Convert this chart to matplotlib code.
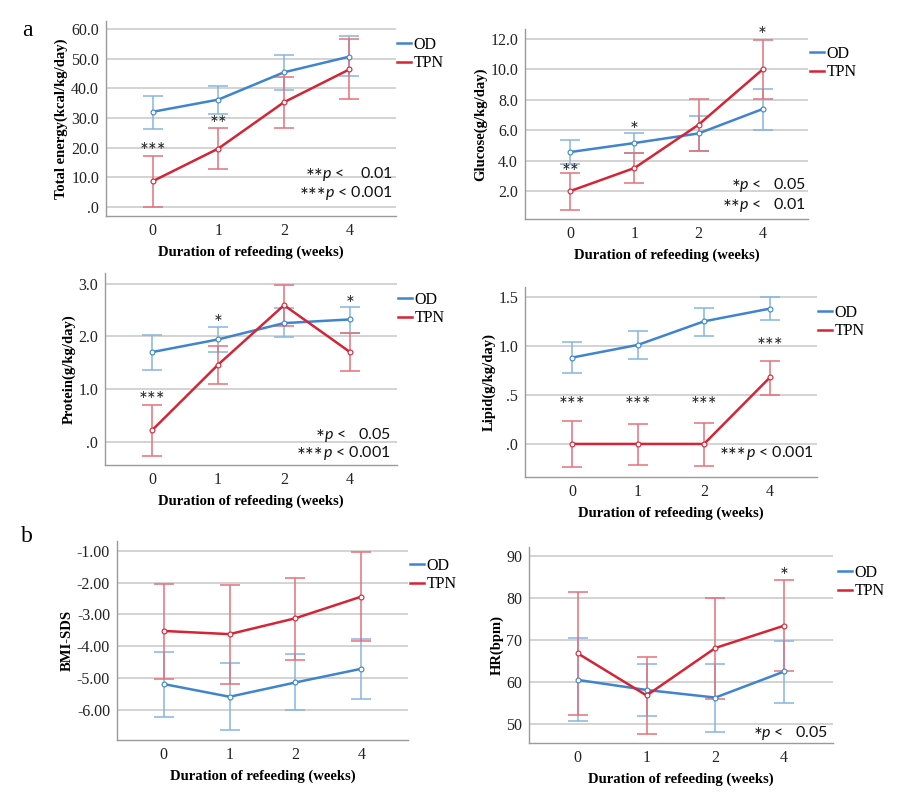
import numpy as np
import matplotlib
matplotlib.use("Agg")
import matplotlib.pyplot as plt
from matplotlib.transforms import offset_copy

plt.rcParams['font.family'] = ['Liberation Serif', 'DejaVu Serif']
plt.rcParams['mathtext.fontset'] = 'custom'
plt.rcParams['mathtext.it'] = 'Lato:italic'
plt.rcParams['mathtext.rm'] = 'Lato'

weeks = ["0", "1", "2", "4"]
groups = ["OD", "TPN"]

# Total energy (kcal/kg/day)
energy_od = [32.1, 36.2, 45.4, 50.7]
energy_od_lo = [26.2, 31.4, 39.4, 44.3]
energy_od_hi = [37.4, 40.9, 51.1, 57.6]
energy_tpn = [8.7, 19.7, 35.3, 46.4]
energy_tpn_lo = [0.2, 12.7, 26.6, 36.3]
energy_tpn_hi = [17.2, 26.6, 43.9, 56.5]

# Glucose (g/kg/day)
glucose_od = [4.56, 5.15, 5.78, 7.38]
glucose_od_lo = [3.79, 4.47, 4.65, 6.03]
glucose_od_hi = [5.37, 5.80, 6.92, 8.70]
glucose_tpn = [2.0, 3.51, 6.35, 9.98]
glucose_tpn_lo = [0.75, 2.50, 4.63, 8.01]
glucose_tpn_hi = [3.18, 4.47, 8.06, 11.95]

# Protein (g/kg/day)
protein_od = [1.70, 1.94, 2.25, 2.32]
protein_od_lo = [1.37, 1.70, 1.99, 2.07]
protein_od_hi = [2.03, 2.18, 2.53, 2.56]
protein_tpn = [0.215, 1.46, 2.59, 1.70]
protein_tpn_lo = [-0.27, 1.09, 2.19, 1.34]
protein_tpn_hi = [0.70, 1.81, 2.97, 2.07]

# Lipid (g/kg/day)
lipid_od = [0.88, 1.01, 1.25, 1.38]
lipid_od_lo = [0.72, 0.87, 1.105, 1.265]
lipid_od_hi = [1.04, 1.15, 1.39, 1.50]
lipid_tpn = [0.0, 0.0, 0.0, 0.68]
lipid_tpn_lo = [-0.24, -0.21, -0.22, 0.50]
lipid_tpn_hi = [0.23, 0.20, 0.21, 0.85]

# BMI-SDS
bmi_od = [-5.19, -5.59, -5.14, -4.71]
bmi_od_lo = [-6.22, -6.65, -6.00, -5.66]
bmi_od_hi = [-4.19, -4.54, -4.26, -3.77]
bmi_tpn = [-3.52, -3.62, -3.12, -2.44]
bmi_tpn_lo = [-5.04, -5.19, -4.42, -3.83]
bmi_tpn_hi = [-2.03, -2.06, -1.84, -1.03]

# HR (bpm)
hr_od = [60.6, 58.2, 56.4, 62.6]
hr_od_lo = [50.8, 52.1, 48.2, 55.2]
hr_od_hi = [70.5, 64.3, 64.3, 69.9]
hr_tpn = [66.9, 56.9, 68.2, 73.5]
hr_tpn_lo = [52.3, 47.8, 56.0, 62.6]
hr_tpn_hi = [81.6, 66.0, 80.1, 84.3]

BLUE = '#3f84cc'
RED = '#d42435'
BLUE_E = '#86b4e2'
RED_E = '#e4707b'

W, H = 900, 808
fig = plt.figure(figsize=(9, 8.08), dpi=100)
renderer = fig.canvas.get_renderer()
SANS = ['Lato', 'DejaVu Sans']


def add_ax(l, r, t, b):
    return fig.add_axes([l / W, 1 - b / H, (r - l) / W, (b - t) / H])


def draw(ax, od, od_lo, od_hi, tpn, tpn_lo, tpn_hi, ylim, yticks, yticklabels, ylabel,
         legpos, stars, ptexts):
    x = np.arange(len(weeks))
    ax.set_xlim(-0.71, 3.71)
    ax.set_ylim(*ylim)
    ax.set_yticks(yticks)
    ax.set_yticklabels(yticklabels, fontsize=11.5)
    ax.set_xticks(x)
    ax.set_xticklabels(weeks, fontsize=11.5)
    ax.tick_params(length=0, pad=5, colors='#222222')
    ax.grid(axis='y', color='#d0d0d0', linewidth=1.3)
    ax.set_axisbelow(True)
    for s in ['top', 'right']:
        ax.spines[s].set_visible(False)
    for s in ['left', 'bottom']:
        ax.spines[s].set_color('#9a9a9a')
        ax.spines[s].set_linewidth(1.0)
    for m, lo, hi, c, ce, lab in [(od, od_lo, od_hi, BLUE, BLUE_E, groups[0]),
                                  (tpn, tpn_lo, tpn_hi, RED, RED_E, groups[1])]:
        m = np.array(m); lo = np.array(lo); hi = np.array(hi)
        ax.errorbar(x, m, yerr=[m - lo, hi - m], fmt='none', ecolor=ce,
                    elinewidth=1.1, capsize=7.5, capthick=1.1, zorder=3)
        ax.plot(x, m, color=c, linewidth=1.8, marker='o', markersize=3.5,
                markerfacecolor='white', markeredgecolor=c, markeredgewidth=0.8,
                label=lab, zorder=4)
    ax.set_ylabel(ylabel, fontsize=10.5, fontweight='bold', labelpad=2)
    ax.set_xlabel("Duration of refeeding (weeks)", fontsize=10.5, fontweight='bold',
                  labelpad=5)
    hx, cy = legpos
    leg = ax.legend(loc='center left', bbox_to_anchor=(hx / W, 1 - cy / H),
                    bbox_transform=fig.transFigure, frameon=False, fontsize=11.5,
                    handlelength=0.9, handletextpad=0.15, borderpad=0,
                    borderaxespad=0, labelspacing=0.15)
    for h in leg.get_lines():
        h.set_marker('')
        h.set_linewidth(1.8)
    for sx, sy, st in stars:
        ax.annotate(st, xy=(sx, sy), xytext=(0, -4), textcoords='offset points',
                    ha='center', va='center', fontsize=15,
                    family=SANS, color='#222222')
    for px, py, st, rest in ptexts:
        t = ax.text(px, py, rest, ha='right', va='center', fontsize=11.5,
                    family=SANS, transform=ax.transAxes, color='#111111')
        bb = t.get_window_extent(renderer=renderer)
        w_pts = bb.width * 72.0 / fig.dpi
        tr = offset_copy(ax.transAxes, fig=fig, x=-w_pts + 0.8, y=-3, units='points')
        ax.text(px, py, st, ha='right', va='center', fontsize=15,
                family=SANS, transform=tr, color='#111111')


ax1 = add_ax(106, 396, 21, 216)
draw(ax1, energy_od, energy_od_lo, energy_od_hi, energy_tpn, energy_tpn_lo, energy_tpn_hi,
     (-3.0, 62.7), [0, 10, 20, 30, 40, 50, 60],
     [".0", "10.0", "20.0", "30.0", "40.0", "50.0", "60.0"],
     "Total energy(kcal/kg/day)", (397, 54),
     [(0, 20.5, "***"), (1, 29.5, "**")],
     [(0.99, 0.215, "**", "$p$ <    0.01"), (0.99, 0.118, "***", "$p$ < 0.001")])

ax2 = add_ax(525, 808, 29, 219)
draw(ax2, glucose_od, glucose_od_lo, glucose_od_hi, glucose_tpn, glucose_tpn_lo, glucose_tpn_hi,
     (0.16, 12.64), [2, 4, 6, 8, 10, 12],
     ["2.0", "4.0", "6.0", "8.0", "10.0", "12.0"],
     "Glucose(g/kg/day)", (810, 63),
     [(0, 3.55, "**"), (1, 6.3, "*"), (3, 12.55, "*")],
     [(0.993, 0.18, "*", "$p$ <   0.05"), (0.993, 0.075, "**", "$p$ <   0.01")])

ax3 = add_ax(105, 397, 273, 465)
draw(ax3, protein_od, protein_od_lo, protein_od_hi, protein_tpn, protein_tpn_lo, protein_tpn_hi,
     (-0.44, 3.2), [0, 1, 2, 3],
     [".0", "1.0", "2.0", "3.0"],
     "Protein(g/kg/day)", (398, 309),
     [(0, 0.87, "***"), (1, 2.34, "*"), (3, 2.70, "*")],
     [(0.977, 0.156, "*", "$p$ <   0.05"), (0.977, 0.063, "***", "$p$ < 0.001")])

ax4 = add_ax(525, 817, 287, 477)
draw(ax4, lipid_od, lipid_od_lo, lipid_od_hi, lipid_tpn, lipid_tpn_lo, lipid_tpn_hi,
     (-0.337, 1.60), [0, 0.5, 1.0, 1.5],
     [".0", ".5", "1.0", "1.5"],
     "Lipid(g/kg/day)", (818, 322),
     [(0, 0.44, "***"), (1, 0.44, "***"), (2, 0.44, "***"), (3, 1.05, "***")],
     [(0.987, 0.128, "***", "$p$ < 0.001")])

ax5 = add_ax(117, 408, 541, 740)
draw(ax5, bmi_od, bmi_od_lo, bmi_od_hi, bmi_tpn, bmi_tpn_lo, bmi_tpn_hi,
     (-6.95, -0.69), [-6, -5, -4, -3, -2, -1],
     ["-6.00", "-5.00", "-4.00", "-3.00", "-2.00", "-1.00"],
     "BMI-SDS", (410, 575),
     [], [])

ax6 = add_ax(529, 833, 547, 743)
draw(ax6, hr_od, hr_od_lo, hr_od_hi, hr_tpn, hr_tpn_lo, hr_tpn_hi,
     (45.6, 92.2), [50, 60, 70, 80, 90],
     ["50", "60", "70", "80", "90"],
     "HR(bpm)", (838, 582),
     [(3, 86.4, "*")],
     [(0.984, 0.05, "*", "$p$ <   0.05")])

fig.text(27 / W, 1 - 30 / H, "a", fontsize=17, ha='center', va='center')
fig.text(27 / W, 1 - 537 / H, "b", fontsize=17, ha='center', va='center')

fig.savefig("out.png", dpi=100)
